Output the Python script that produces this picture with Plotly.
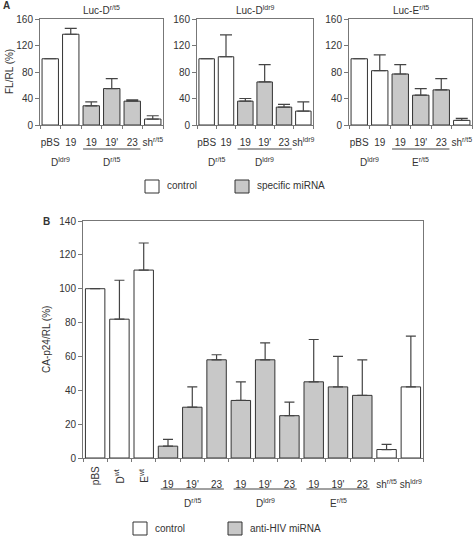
import plotly.graph_objects as go

W, H = 473, 536
def X(px): return px / W
def Y(py): return 1 - py / H

# ---------------- data ----------------
a_categories = ["pBS", "19", "19", "19'", "23"]
a1_last = "sh<sup>r/t5</sup>"
a2_last = "sh<sup>ldr9</sup>"
a3_last = "sh<sup>r/t5</sup>"
a_specific = [False, False, True, True, True, False]

a1_titles = "Luc-D<sup>r/t5</sup>"
a2_titles = "Luc-D<sup>ldr9</sup>"
a3_titles = "Luc-E<sup>r/t5</sup>"

a1_values = [100, 137, 29, 55, 36, 9]
a1_err = [0, 9, 6, 15, 2, 5]
a2_values = [100, 103, 36, 65, 27, 21]
a2_err = [0, 33, 4, 26, 4, 14]
a3_values = [100, 82, 77, 45, 53, 7]
a3_err = [0, 24, 14, 10, 17, 3]

a1_groups = ["D<sup>ldr9</sup>", "D<sup>r/t5</sup>"]
a2_groups = ["D<sup>r/t5</sup>", "D<sup>ldr9</sup>"]
a3_groups = ["D<sup>ldr9</sup>", "E<sup>r/t5</sup>"]

b_categories = ["pBS", "D<sup>wt</sup>", "E<sup>wt</sup>",
                "19", "19'", "23", "19", "19'", "23", "19", "19'", "23",
                "sh<sup>r/t5</sup>", "sh<sup>ldr9</sup>"]
b_rotated = [True, True, True] + [False] * 11
b_specific = [False, False, False] + [True] * 9 + [False, False]
b_values = [100, 82, 111, 7, 30, 58, 34, 58, 25, 45, 42, 37, 5, 42]
b_err = [0, 23, 16, 4, 12, 3, 11, 10, 8, 25, 18, 21, 3, 30]
b_groups = ["D<sup>r/t5</sup>", "D<sup>ldr9</sup>", "E<sup>r/t5</sup>"]

a_ticks = [0, 40, 80, 120, 160]
b_ticks = [0, 20, 40, 60, 80, 100, 120, 140]

# ---------------- style ----------------
FONT = "Liberation Sans, Arial, sans-serif"
TXT = "#333333"
GRAY = "#c8c8c8"
EDGE = "#333333"
AXC = "#777777"

fig = go.Figure()

def add_bars(xa, ya, vals, errs, spec, capw):
    fig.add_trace(go.Bar(
        x=list(range(len(vals))), y=vals,
        xaxis=xa, yaxis=ya,
        marker=dict(color=[GRAY if s else "white" for s in spec],
                    line=dict(color=EDGE, width=1)),
        error_y=dict(type="data", symmetric=False, array=errs,
                     arrayminus=[0] * len(errs), color="#444444",
                     thickness=1.2, width=capw),
        showlegend=False, hoverinfo="skip"))

add_bars("x", "y", a1_values, a1_err, a_specific, 6)
add_bars("x2", "y2", a2_values, a2_err, a_specific, 6)
add_bars("x3", "y3", a3_values, a3_err, a_specific, 6)
add_bars("x4", "y4", b_values, b_err, b_specific, 5)

tickfont = dict(family=FONT, size=10, color=TXT)

def xaxis(dom, anchor, n, texts, standoff):
    return dict(domain=dom, anchor=anchor, range=[-0.5, n - 0.5],
                tickvals=list(range(n)), ticktext=texts, ticks="",
                showline=True, linecolor=AXC, linewidth=1, mirror=True,
                showgrid=False, zeroline=False, tickfont=tickfont,
                ticklabelstandoff=standoff, automargin=False, tickangle=0,
                minor=dict(ticks="outside", tick0=0.5, dtick=1, ticklen=3,
                           tickcolor=AXC, showgrid=False))

def yaxis(dom, anchor, rng, tv):
    return dict(domain=dom, anchor=anchor, range=rng, tickvals=tv,
                ticks="outside", ticklen=4, tickcolor=AXC,
                showline=True, linecolor=AXC, linewidth=1, mirror=True,
                showgrid=False, zeroline=False, tickfont=tickfont,
                automargin=False)

ya_dom = [Y(125), Y(19)]
a_texts1 = a_categories + [a1_last]
a_texts2 = a_categories + [a2_last]
a_texts3 = a_categories + [a3_last]
b_texts = ["" if r else c for c, r in zip(b_categories, b_rotated)]

fig.update_layout(
    width=W, height=H,
    margin=dict(l=0, r=0, t=0, b=0, pad=0, autoexpand=False),
    paper_bgcolor="white", plot_bgcolor="white",
    bargap=0.2, font=dict(family=FONT, size=10, color=TXT),
    xaxis=xaxis([X(40), X(163)], "y", 6, a_texts1, 8),
    yaxis=yaxis(ya_dom, "x", [0, 160], a_ticks),
    xaxis2=xaxis([X(197), X(313)], "y2", 6, a_texts2, 8),
    yaxis2=yaxis(ya_dom, "x2", [0, 160], a_ticks),
    xaxis3=xaxis([X(349), X(472)], "y3", 6, a_texts3, 8),
    yaxis3=yaxis(ya_dom, "x3", [0, 160], a_ticks),
    xaxis4=xaxis([X(83), X(423)], "y4", 14, b_texts, 17),
    yaxis4=yaxis([Y(458), Y(221)], "x4", [0, 140], b_ticks),
)

ann = []
shapes = []

def text(x, y, s, xref="paper", size=10, xanchor="center", yanchor="middle", **kw):
    ann.append(dict(x=x, y=y, xref=xref, yref="paper", text=s,
                    showarrow=False, xanchor=xanchor, yanchor=yanchor,
                    font=dict(family=FONT, size=size, color=TXT), **kw))

# panel labels
text(X(6), Y(6), "<b>A</b>", size=10)
text(X(46), Y(221), "<b>B</b>", size=10)
# titles A
for xa, t in (("x", a1_titles), ("x2", a2_titles), ("x3", a3_titles)):
    text(2.5, Y(10), t, xref=xa)
# y axis titles
text(X(10), Y(72), "FL/RL (%)", textangle=-90)
text(X(46), Y(340), "CA-p24/RL (%)", textangle=-90)

# A group labels and underlines
for xa, g in (("x", a1_groups), ("x2", a2_groups), ("x3", a3_groups)):
    text(0.5, Y(162), g[0], xref=xa)
    text(3, Y(162), g[1], xref=xa)
    shapes.append(dict(type="line", xref=xa, yref="paper", x0=1.6, x1=4.4,
                       y0=Y(149), y1=Y(149), line=dict(color="#444444", width=1)))

# B rotated tick labels
for i, (c, r) in enumerate(zip(b_categories, b_rotated)):
    if r:
        text(i, Y(476), c, xref="x4", textangle=-90)

# B group labels and underlines
for k, g in enumerate(b_groups):
    c0 = 3 + 3 * k
    text(c0 + 1, Y(503), g, xref="x4")
    shapes.append(dict(type="line", xref="x4", yref="paper", x0=c0 - 0.3,
                       x1=c0 + 2.3, y0=Y(489), y1=Y(489),
                       line=dict(color="#444444", width=1)))

# legends
def legend(y_c, x_w, x_g, t1, t2):
    for x0, col in ((x_w, "white"), (x_g, GRAY)):
        shapes.append(dict(type="rect", xref="paper", yref="paper",
                           x0=X(x0), x1=X(x0 + 14), y0=Y(y_c + 7), y1=Y(y_c - 6),
                           fillcolor=col, line=dict(color=EDGE, width=1)))
    text(X(x_w + 20), Y(y_c), t1, xanchor="left")
    text(X(x_g + 20), Y(y_c), t2, xanchor="left")

legend(186, 145, 235, "control", "specific miRNA")
legend(528, 133, 228, "control", "anti-HIV miRNA")

fig.update_layout(annotations=ann, shapes=shapes)
fig.write_html("out.html", config={"displayModeBar": False},
               post_script="document.body.style.margin='0px';"
                           "document.body.style.overflow='hidden';")
